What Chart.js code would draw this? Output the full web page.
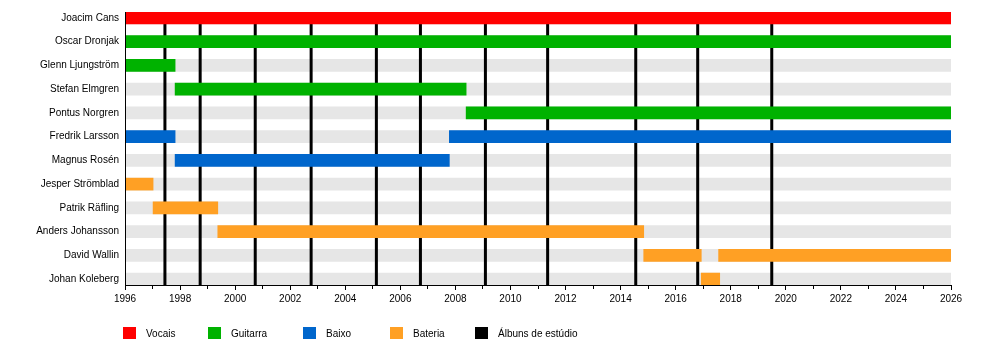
<!DOCTYPE html>
<html>
<head>
<meta charset="utf-8">
<script src="https://cdn.jsdelivr.net/npm/chart.js@4/dist/chart.umd.min.js"></script>
<style>
    body { margin: 0; background: #fff; }
    #wrap { position: relative; width: 1000px; height: 360px; }
    #legenda { position: absolute; top: 327px; left: 123px; display: flex; font: 10px "Liberation Sans", Arial, sans-serif; color: #000; }
    #legenda .item { display: flex; align-items: center; height: 12px; }
    #legenda .box { width: 13px; height: 12px; margin-right: 10px; }
</style>
</head>
<body>
<div id="wrap">
    <canvas id="myChart" width="1000" height="360"></canvas>
    <div id="legenda"></div>
</div>
<script>
//---------------------------------------------------------------------------
// Data (years as decimals)
const membros = ['Joacim Cans', 'Oscar Dronjak', 'Glenn Ljungström', 'Stefan Elmgren', 'Pontus Norgren',
    'Fredrik Larsson', 'Magnus Rosén', 'Jesper Strömblad', 'Patrik Räfling', 'Anders Johansson',
    'David Wallin', 'Johan Koleberg'];
const periodo = [1996, 2026];

const vocais = [['Joacim Cans', 1996, 2026]];
const guitarra = [['Oscar Dronjak', 1996, 2026], ['Glenn Ljungström', 1996, 1997.82],
    ['Stefan Elmgren', 1997.82, 2008.39], ['Pontus Norgren', 2008.39, 2026]];
const baixo = [['Fredrik Larsson', 1996, 1997.82], ['Fredrik Larsson', 2007.78, 2026],
    ['Magnus Rosén', 1997.82, 2007.78]];
const bateria = [['Jesper Strömblad', 1996, 1997.02], ['Patrik Räfling', 1997.02, 1999.37],
    ['Anders Johansson', 1999.37, 2014.84], ['David Wallin', 2014.84, 2016.93],
    ['David Wallin', 2017.56, 2026], ['Johan Koleberg', 2016.93, 2017.6]];
const albuns = [1997.45, 1998.73, 2000.73, 2002.76, 2005.13, 2006.73, 2009.09, 2011.35, 2014.55, 2016.8, 2019.49];

const funcoes = ['Vocais', 'Guitarra', 'Baixo', 'Bateria'];
const cores = ['#ff0000', '#00b200', '#0066cc', '#ffa024'];
//---------------------------------------------------------------------------
const FONT = { family: '"Liberation Sans", Arial, sans-serif', size: 10 };
const toBars = (list) => list.map(([m, s, e]) => ({ x: [s, e], y: membros.indexOf(m) }));

const datasets = [vocais, guitarra, baixo, bateria].map((list, i) => ({
    label: funcoes[i],
    data: toBars(list),
    backgroundColor: cores[i],
    barThickness: 12,
    grouped: false,
    order: 1
}));
// grey background rows, drawn first
datasets.push({
    label: 'fundo',
    data: membros.map((m, i) => ({ x: periodo.slice(), y: i })),
    backgroundColor: '#e6e6e6',
    barThickness: 12,
    grouped: false,
    order: 5
});
const GREY = datasets.length - 1;

// studio album lines, drawn right after the grey rows
const albumLines = {
    id: 'albumLines',
    afterDatasetDraw(chart, args) {
        if (args.index !== GREY) return;
        const { ctx, chartArea, scales } = chart;
        ctx.save();
        ctx.strokeStyle = '#000';
        ctx.lineWidth = 3;
        albuns.forEach((a) => {
            const x = scales.x.getPixelForValue(a);
            ctx.beginPath();
            ctx.moveTo(x, chartArea.top);
            ctx.lineTo(x, chartArea.bottom);
            ctx.stroke();
        });
        ctx.restore();
    }
};

new Chart(document.getElementById('myChart'), {
    type: 'bar',
    data: { datasets: datasets },
    plugins: [albumLines],
    options: {
        indexAxis: 'y',
        responsive: false,
        animation: false,
        devicePixelRatio: 1,
        layout: { padding: { top: 10, right: 49, left: 0, bottom: 0 } },
        plugins: { legend: { display: false }, tooltip: { enabled: false } },
        scales: {
            x: {
                type: 'linear',
                min: periodo[0],
                max: periodo[1],
                afterFit: (s) => { s.height = 75; },
                afterBuildTicks: (s) => {
                    const t = [];
                    for (let y = periodo[0]; y <= periodo[1]; y++) t.push({ value: y });
                    s.ticks = t;
                },
                ticks: {
                    autoSkip: false, maxRotation: 0, padding: 3, color: '#000', font: FONT,
                    callback: (v) => (v % 2 === 0 ? String(v) : '')
                },
                grid: {
                    display: true, drawOnChartArea: false, drawTicks: true, tickLength: 5,
                    tickColor: '#000', tickWidth: 1,
                    tickBorderDash: (c) => (c.tick && c.tick.value % 2 !== 0 ? [3, 20] : [])
                },
                border: { display: true, color: '#000', width: 1, z: 1 }
            },
            y: {
                type: 'linear',
                reverse: true,
                offset: false,
                min: -0.25,
                max: membros.length - 0.75,
                afterFit: (s) => { s.width = 125; },
                afterBuildTicks: (s) => { s.ticks = membros.map((m, i) => ({ value: i })); },
                ticks: { padding: 6, color: '#000', font: FONT, callback: (v) => membros[v] },
                grid: { display: false, drawTicks: false, offset: false },
                border: { display: true, color: '#000', width: 1, z: 1 }
            }
        }
    }
});
//---------------------------------------------------------------------------
// Legend
const legenda = document.getElementById('legenda');
const larguras = [85, 95, 87, 85, 0];
funcoes.concat(['Álbuns de estúdio']).forEach((nome, i) => {
    const item = document.createElement('div');
    item.className = 'item';
    if (larguras[i]) item.style.width = larguras[i] + 'px';
    item.innerHTML = '<span class="box" style="background:' + (cores[i] || '#000') + '"></span><span>' + nome + '</span>';
    legenda.appendChild(item);
});
</script>
</body>
</html>
